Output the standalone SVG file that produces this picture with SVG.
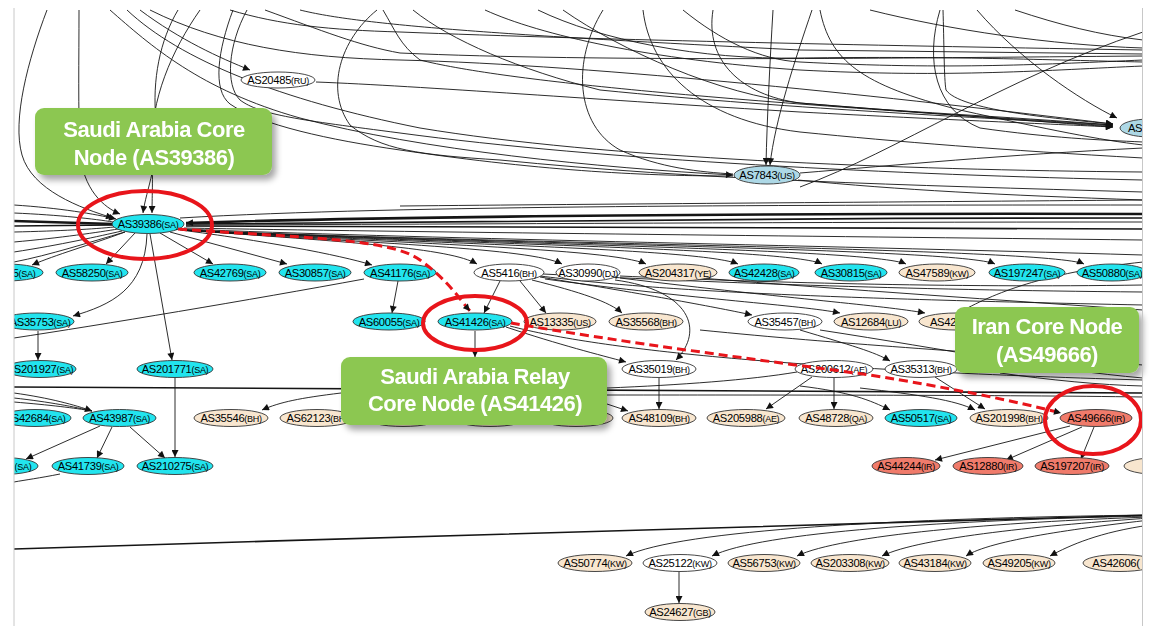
<svg xmlns="http://www.w3.org/2000/svg" width="1153" height="632" viewBox="0 0 1153 632">
<style>
.e{fill:none;stroke:#151515;stroke-width:0.9}
.t{stroke-width:2.6}
.m{stroke-width:1.6}
.a{marker-end:url(#ah)}
ellipse{stroke:#333;stroke-width:0.9}
.sa{fill:#22e4ee}.bg{fill:#f8e6cf}.wh{fill:#fff}.ir{fill:#f07b6b}.lb{fill:#add8e6}
.node text{font-family:"Liberation Sans",Arial,sans-serif;font-size:11.2px;fill:#000;text-anchor:middle;letter-spacing:-0.3px}
.cc{font-size:9px}
.co{fill:#8cc751}
.ct{font-family:"Liberation Sans",Arial,sans-serif;font-weight:bold;font-size:22px;fill:#fff;text-anchor:middle;letter-spacing:-0.5px}
.ring{fill:none;stroke:#e8151b;stroke-width:4}
.rd{fill:none;stroke:#e8151b;stroke-width:3;stroke-dasharray:9 5}
</style>
<defs>
<marker id="ah" viewBox="0 0 10 10" refX="10" refY="5" markerWidth="8" markerHeight="7" markerUnits="userSpaceOnUse" orient="auto"><path d="M0,0L10,5L0,10z" fill="#111"/></marker>
<clipPath id="fr"><rect x="14" y="8" width="1128.5" height="618"/></clipPath>
<filter id="sh" x="-10%" y="-15%" width="130%" height="150%"><feGaussianBlur in="SourceAlpha" stdDeviation="3"/><feOffset dx="4" dy="5" result="b"/><feFlood flood-color="#000" flood-opacity="0.35"/><feComposite in2="b" operator="in"/><feMerge><feMergeNode/><feMergeNode in="SourceGraphic"/></feMerge></filter>
</defs>
<rect width="1153" height="632" fill="#fff"/>
<g clip-path="url(#fr)">
<g id="connectors">
<path class="e a" d="M47,10 C28,60 12,120 22,155 C32,190 80,208 113,218"/>
<path class="e a" d="M79,10 C79,60 78,110 80,150 C82,190 105,208 120,214"/>
<path class="e a" d="M178,10 C160,40 152,80 156,120 C160,160 146,190 143,213"/>
<path class="e a" d="M200,10 C172,50 150,100 152,150 C153,180 152,200 152,213"/>
<path class="e a" d="M110,10 C150,45 200,90 300,118 C420,150 600,168 733,175"/>
<path class="e" d="M127,10 C180,60 280,100 420,128 C600,158 900,170 1143,172"/>
<path class="e a" d="M150,10 C220,45 300,58 400,60 C600,65 900,98 1113,124"/>
<path class="e" d="M230,10 C280,25 330,30 400,32 C600,40 900,46 1143,50"/>
<path class="e" d="M265,10 C320,30 360,46 400,53 C600,62 900,58 1143,56"/>
<path class="e" d="M247,10 C228,45 225,85 240,100 C260,115 300,120 400,133 C600,160 900,175 1143,180"/>
<path class="e" d="M233,10 C218,50 212,90 230,104 C260,125 330,140 400,150 C550,172 650,176 733,176"/>
<path class="e" d="M377,10 C340,40 325,90 350,125 C380,150 420,155 500,160 C700,180 900,185 1143,192"/>
<path class="e a" d="M383,10 C395,30 400,45 420,60 C500,80 700,100 1113,125"/>
<path class="e a" d="M413,10 C450,40 520,70 600,90 C800,110 1000,118 1113,126"/>
<path class="e" d="M485,10 C540,35 650,60 800,70 C950,78 1050,70 1143,66"/>
<path class="e" d="M538,10 C600,40 700,60 800,58 C950,56 1050,60 1143,62"/>
<path class="e a" d="M563,10 C620,50 720,95 800,103 C950,115 1050,122 1113,127"/>
<path class="e" d="M603,10 C572,60 575,125 620,150 C660,168 700,172 733,174"/>
<path class="e" d="M643,10 C650,70 700,120 800,132 C900,142 1000,150 1143,158"/>
<path class="e" d="M683,10 C720,40 760,60 800,62 C950,70 1050,64 1143,60"/>
<path class="e a" d="M713,10 C705,60 740,95 800,103 C900,112 1000,116 1113,125"/>
<path class="e a" d="M773,10 C770,60 767,120 766,165"/>
<path class="e a" d="M812,10 C795,60 775,120 770,165"/>
<path class="e" d="M820,10 C830,60 860,85 960,110 C1050,130 1100,140 1143,145"/>
<path class="e a" d="M943,10 C944,40 944,80 946,90 C960,110 1050,118 1113,124"/>
<path class="e" d="M940,10 C925,60 935,110 980,128 C1050,138 1100,140 1143,142"/>
<path class="e a" d="M977,10 C1020,60 1080,100 1117,118"/>
<path class="e" d="M1015,10 C1060,25 1100,35 1143,40"/>
<path class="e" d="M870,10 C950,30 1050,45 1143,48"/>
<path class="e" d="M800,187 C900,150 1000,80 1143,32"/>
<path class="e" d="M800,173 C900,165 1000,155 1143,148"/>
<path class="e" d="M798,180 C900,190 1000,195 1143,200"/>
<path class="e a" d="M316,82 C420,86 600,100 800,112 C950,120 1050,124 1113,127"/>
<path class="e a" d="M140,10 C180,40 220,58 250,70"/>
<path class="e" d="M300,10 C360,25 500,35 800,50 L1143,54"/>
<path class="e a" d="M14,205 C60,208 95,214 116,219"/>
<path class="e" d="M14,213 C60,215 95,219 113,222"/>
<path class="e t" d="M14,221 L113,224"/>
<path class="e m" d="M14,226 L113,225"/>
<path class="e" d="M14,232 C60,231 95,229 114,227"/>
<path class="e" d="M14,242 C60,238 100,232 118,229"/>
<path class="e" d="M14,252 C60,245 100,236 122,231"/>
<path class="e" d="M14,262 C50,255 90,242 125,232"/>
<path class="e t a" d="M1143,214 C800,213 400,216 186,223"/>
<path class="e m" d="M1143,218 C800,218 400,220 186,224"/>
<path class="e" d="M1143,222 C800,222 500,224 186,225"/>
<path class="e m" d="M186,226 C400,226 800,228 1143,229"/>
<path class="e" d="M184,228 C400,232 800,236 1143,240"/>
<path class="e" d="M183,229 C400,238 800,245 1143,255"/>
<path class="e" d="M180,218 C400,205 800,205 1143,205"/>
<path class="e" d="M400,206 C600,204 900,202 1143,200"/>
<path class="e a" d="M182,230 C350,242 450,248 477,264"/>
<path class="e a" d="M182,230 C380,244 530,248 562,264"/>
<path class="e a" d="M182,230 C400,244 610,248 646,264"/>
<path class="e a" d="M182,230 C420,244 700,248 738,264"/>
<path class="e a" d="M182,230 C440,244 790,248 822,264"/>
<path class="e a" d="M182,230 C460,244 870,248 906,264"/>
<path class="e a" d="M182,230 C480,244 960,248 995,264"/>
<path class="e a" d="M182,230 C500,244 1050,248 1084,264"/>
<path class="e a" d="M125,232 C90,245 55,255 32,265"/>
<path class="e a" d="M135,233 L106,264"/>
<path class="e a" d="M160,233 L213,264"/>
<path class="e a" d="M170,232 L287,264"/>
<path class="e a" d="M180,230 C260,240 340,255 372,265"/>
<path class="e a" d="M147,234 C145,290 110,305 73,316"/>
<path class="e a" d="M150,234 L172,360"/>
<path class="e" d="M364,279 C250,300 100,325 14,338"/>
<path class="e a" d="M38,331 L38,360"/>
<path class="e a" d="M398,281 L392,313"/>
<path class="e a" d="M175,378 L175,457"/>
<path class="e a" d="M500,281 L484,313"/>
<path class="e a" d="M520,281 L546,313"/>
<path class="e a" d="M532,280 C580,292 610,302 622,313"/>
<path class="e a" d="M540,277 C650,295 720,308 752,315"/>
<path class="e" d="M540,276 C650,290 800,298 1143,305"/>
<path class="e" d="M543,274 C700,282 900,290 1143,292"/>
<path class="e" d="M620,276 C750,282 950,288 1143,285"/>
<path class="e" d="M700,278 C850,290 1000,300 1143,310"/>
<path class="e a" d="M545,279 C700,300 800,305 840,313"/>
<path class="e a" d="M620,278 C800,300 880,305 925,313"/>
<path class="e" d="M1143,262 C1050,272 1000,290 960,312"/>
<path class="e a" d="M615,280 C690,290 705,330 676,360"/>
<path class="e a" d="M506,327 C560,345 600,355 626,362"/>
<path class="e a" d="M475,331 L475,357"/>
<path class="e" d="M510,326 C600,350 800,370 1143,380"/>
<path class="e a" d="M800,330 C850,345 875,352 890,361"/>
<path class="e" d="M700,330 C850,345 950,350 1143,365"/>
<path class="e" d="M820,330 C950,350 1050,370 1143,378"/>
<path class="e a" d="M659,378 L659,409"/>
<path class="e a" d="M812,377 L766,409"/>
<path class="e a" d="M834,378 L834,409"/>
<path class="e a" d="M935,377 L985,409"/>
<path class="e a" d="M800,386 C850,392 870,400 890,410"/>
<path class="e a" d="M860,388 C920,395 955,400 975,410"/>
<path class="e" d="M797,372 C750,380 680,385 607,388"/>
<path class="e m" d="M14,387 C300,389 700,391 1143,393"/>
<path class="e" d="M607,395 C800,395 1000,395 1143,397"/>
<path class="e" d="M1000,373 C1050,380 1100,385 1143,386"/>
<path class="e a" d="M607,404 L628,411"/>
<path class="e a" d="M341,393 C300,398 280,402 262,410"/>
<path class="e a" d="M14,393 C50,398 75,405 92,411"/>
<path class="e" d="M14,398 C50,402 75,407 92,411"/>
<path class="e" d="M14,402 C50,405 75,408 92,411"/>
<path class="e a" d="M100,426 L26,459"/>
<path class="e a" d="M112,427 L97,458"/>
<path class="e a" d="M130,427 L165,458"/>
<path class="e" d="M60,474 C40,478 25,480 14,482"/>
<path class="e a" d="M1070,426 L935,460"/>
<path class="e a" d="M1082,427 L1006,460"/>
<path class="e a" d="M1094,427 L1081,459"/>
<path class="e m" d="M14,549 C400,537 800,525 1150,515"/>
<path class="e a" d="M1150,515 C900,518 680,530 626,556"/>
<path class="e a" d="M1150,516 C950,520 760,532 712,556"/>
<path class="e a" d="M1150,517 C1000,522 840,535 797,556"/>
<path class="e a" d="M1150,518 C1050,525 920,537 882,556"/>
<path class="e a" d="M1150,520 C1080,528 990,540 966,556"/>
<path class="e a" d="M1150,525 C1100,532 1070,545 1050,556"/>
<path class="e a" d="M679,572 L679,603"/>
</g>
<g id="n-AS20485" class="node"><ellipse cx="278" cy="80" rx="37" ry="8" class="wh"/><text x="278" y="84">AS20485<tspan class="cc">(RU)</tspan></text></g>
<g id="n-AS7843" class="node"><ellipse cx="767" cy="175" rx="33" ry="9" class="lb"/><text x="767" y="179">AS7843<tspan class="cc">(US)</tspan></text></g>
<g id="n-AS4" class="node"><ellipse cx="1150" cy="128" rx="30" ry="9" class="lb"/><text x="1138" y="132">AS4</text></g>
<g id="n-AS39386" class="node"><ellipse cx="148" cy="224" rx="36" ry="9.5" class="sa"/><text x="148" y="228">AS39386<tspan class="cc">(SA)</tspan></text></g>
<g id="n-x5SA" class="node"><ellipse cx="6" cy="272.5" rx="37" ry="8.5" class="sa"/><text x="24" y="276.5">5<tspan class="cc">(SA)</tspan></text></g>
<g id="n-AS58250" class="node"><ellipse cx="92" cy="272.5" rx="36" ry="8.5" class="sa"/><text x="92" y="276.5">AS58250<tspan class="cc">(SA)</tspan></text></g>
<g id="n-AS42769" class="node"><ellipse cx="230" cy="272.5" rx="36" ry="8.5" class="sa"/><text x="230" y="276.5">AS42769<tspan class="cc">(SA)</tspan></text></g>
<g id="n-AS30857" class="node"><ellipse cx="315" cy="272.5" rx="36" ry="8.5" class="sa"/><text x="315" y="276.5">AS30857<tspan class="cc">(SA)</tspan></text></g>
<g id="n-AS41176" class="node"><ellipse cx="400" cy="272.5" rx="36" ry="8.5" class="sa"/><text x="400" y="276.5">AS41176<tspan class="cc">(SA)</tspan></text></g>
<g id="n-AS5416" class="node"><ellipse cx="509" cy="272.5" rx="35" ry="8.5" class="wh"/><text x="509" y="276.5">AS5416<tspan class="cc">(BH)</tspan></text></g>
<g id="n-AS30990" class="node"><ellipse cx="588" cy="272.5" rx="32" ry="8.5" class="wh"/><text x="588" y="276.5">AS30990<tspan class="cc">(DJ)</tspan></text></g>
<g id="n-AS204317" class="node"><ellipse cx="678" cy="272.5" rx="39" ry="8.5" class="bg"/><text x="678" y="276.5">AS204317<tspan class="cc">(YE)</tspan></text></g>
<g id="n-AS42428" class="node"><ellipse cx="764" cy="272.5" rx="35" ry="8.5" class="sa"/><text x="764" y="276.5">AS42428<tspan class="cc">(SA)</tspan></text></g>
<g id="n-AS30815" class="node"><ellipse cx="851" cy="272.5" rx="36" ry="8.5" class="sa"/><text x="851" y="276.5">AS30815<tspan class="cc">(SA)</tspan></text></g>
<g id="n-AS47589" class="node"><ellipse cx="937" cy="272.5" rx="38" ry="8.5" class="bg"/><text x="937" y="276.5">AS47589<tspan class="cc">(KW)</tspan></text></g>
<g id="n-AS197247" class="node"><ellipse cx="1027" cy="272.5" rx="38" ry="8.5" class="sa"/><text x="1027" y="276.5">AS197247<tspan class="cc">(SA)</tspan></text></g>
<g id="n-AS50880" class="node"><ellipse cx="1112" cy="272.5" rx="35" ry="8.5" class="sa"/><text x="1112" y="276.5">AS50880<tspan class="cc">(SA)</tspan></text></g>
<g id="n-AS35753" class="node"><ellipse cx="37" cy="321.5" rx="37" ry="8.5" class="sa"/><text x="40" y="325.5">AS35753<tspan class="cc">(SA)</tspan></text></g>
<g id="n-AS60055" class="node"><ellipse cx="389" cy="321.5" rx="36" ry="8.5" class="sa"/><text x="389" y="325.5">AS60055<tspan class="cc">(SA)</tspan></text></g>
<g id="n-AS41426" class="node"><ellipse cx="475" cy="321.5" rx="37" ry="8.5" class="sa"/><text x="475" y="325.5">AS41426<tspan class="cc">(SA)</tspan></text></g>
<g id="n-AS13335" class="node"><ellipse cx="560" cy="321.5" rx="36" ry="8.5" class="bg"/><text x="560" y="325.5">AS13335<tspan class="cc">(US)</tspan></text></g>
<g id="n-AS35568" class="node"><ellipse cx="646" cy="321.5" rx="37" ry="8.5" class="bg"/><text x="646" y="325.5">AS35568<tspan class="cc">(BH)</tspan></text></g>
<g id="n-AS35457" class="node"><ellipse cx="785" cy="321.5" rx="37" ry="8.5" class="wh"/><text x="785" y="325.5">AS35457<tspan class="cc">(BH)</tspan></text></g>
<g id="n-AS12684" class="node"><ellipse cx="871" cy="321.5" rx="37" ry="8.5" class="bg"/><text x="871" y="325.5">AS12684<tspan class="cc">(LU)</tspan></text></g>
<g id="n-AS42x" class="node"><ellipse cx="956" cy="321.5" rx="37" ry="8.5" class="bg"/><text x="943" y="325.5">AS42</text></g>
<g id="n-AS201927" class="node"><ellipse cx="40" cy="369" rx="36" ry="8.5" class="sa"/><text x="40" y="373">AS201927<tspan class="cc">(SA)</tspan></text></g>
<g id="n-AS201771" class="node"><ellipse cx="175" cy="369" rx="38" ry="8.5" class="sa"/><text x="175" y="373">AS201771<tspan class="cc">(SA)</tspan></text></g>
<g id="n-AS35019" class="node"><ellipse cx="659" cy="369" rx="37" ry="8.5" class="wh"/><text x="659" y="373">AS35019<tspan class="cc">(BH)</tspan></text></g>
<g id="n-AS200612" class="node"><ellipse cx="834" cy="369" rx="39" ry="8.5" class="wh"/><text x="834" y="373">AS200612<tspan class="cc">(AE)</tspan></text></g>
<g id="n-AS35313" class="node"><ellipse cx="921" cy="369" rx="36" ry="8.5" class="wh"/><text x="921" y="373">AS35313<tspan class="cc">(BH)</tspan></text></g>
<g id="n-AS42684" class="node"><ellipse cx="35" cy="418" rx="36" ry="8.5" class="sa"/><text x="35" y="422">AS42684<tspan class="cc">(SA)</tspan></text></g>
<g id="n-AS43987" class="node"><ellipse cx="119.5" cy="418" rx="36.5" ry="8.5" class="sa"/><text x="119.5" y="422">AS43987<tspan class="cc">(SA)</tspan></text></g>
<g id="n-AS35546" class="node"><ellipse cx="231" cy="418" rx="37" ry="8.5" class="bg"/><text x="231" y="422">AS35546<tspan class="cc">(BH)</tspan></text></g>
<g id="n-AS62123" class="node"><ellipse cx="317" cy="418" rx="37" ry="8.5" class="bg"/><text x="317" y="422">AS62123<tspan class="cc">(BH)</tspan></text></g>
<g id="n-h1" class="node"><ellipse cx="403" cy="418" rx="37" ry="8.5" class="bg"/></g>
<g id="n-h2" class="node"><ellipse cx="490" cy="418" rx="37" ry="8.5" class="bg"/></g>
<g id="n-h3" class="node"><ellipse cx="576" cy="418" rx="37" ry="8.5" class="bg"/></g>
<g id="n-AS48109" class="node"><ellipse cx="659" cy="418" rx="37" ry="8.5" class="bg"/><text x="659" y="422">AS48109<tspan class="cc">(BH)</tspan></text></g>
<g id="n-AS205988" class="node"><ellipse cx="746" cy="418" rx="39" ry="8.5" class="bg"/><text x="746" y="422">AS205988<tspan class="cc">(AE)</tspan></text></g>
<g id="n-AS48728" class="node"><ellipse cx="836" cy="418" rx="37" ry="8.5" class="bg"/><text x="836" y="422">AS48728<tspan class="cc">(QA)</tspan></text></g>
<g id="n-AS50517" class="node"><ellipse cx="921" cy="418" rx="36" ry="8.5" class="sa"/><text x="921" y="422">AS50517<tspan class="cc">(SA)</tspan></text></g>
<g id="n-AS201998" class="node"><ellipse cx="1009" cy="418" rx="39" ry="8.5" class="bg"/><text x="1009" y="422">AS201998<tspan class="cc">(BH)</tspan></text></g>
<g id="n-AS49666" class="node"><ellipse cx="1096" cy="418" rx="36" ry="8.5" class="ir"/><text x="1096" y="422">AS49666<tspan class="cc">(IR)</tspan></text></g>
<g id="n-xSA" class="node"><ellipse cx="2" cy="466" rx="36" ry="8.5" class="sa"/><text x="23" y="470"><tspan class="cc">(SA)</tspan></text></g>
<g id="n-AS41739" class="node"><ellipse cx="88" cy="466" rx="36" ry="8.5" class="sa"/><text x="88" y="470">AS41739<tspan class="cc">(SA)</tspan></text></g>
<g id="n-AS210275" class="node"><ellipse cx="175" cy="466" rx="38" ry="8.5" class="sa"/><text x="175" y="470">AS210275<tspan class="cc">(SA)</tspan></text></g>
<g id="n-AS44244" class="node"><ellipse cx="906" cy="466" rx="34" ry="8.5" class="ir"/><text x="906" y="470">AS44244<tspan class="cc">(IR)</tspan></text></g>
<g id="n-AS12880" class="node"><ellipse cx="988" cy="466" rx="35" ry="8.5" class="ir"/><text x="988" y="470">AS12880<tspan class="cc">(IR)</tspan></text></g>
<g id="n-AS197207" class="node"><ellipse cx="1072" cy="466" rx="37" ry="8.5" class="ir"/><text x="1072" y="470">AS197207<tspan class="cc">(IR)</tspan></text></g>
<g id="n-xr" class="node"><ellipse cx="1160" cy="466" rx="36" ry="8.5" class="bg"/></g>
<g id="n-AS50774" class="node"><ellipse cx="595" cy="563" rx="37" ry="8.5" class="bg"/><text x="595" y="567">AS50774<tspan class="cc">(KW)</tspan></text></g>
<g id="n-AS25122" class="node"><ellipse cx="680" cy="563" rx="37" ry="8.5" class="wh"/><text x="680" y="567">AS25122<tspan class="cc">(KW)</tspan></text></g>
<g id="n-AS56753" class="node"><ellipse cx="764" cy="563" rx="36" ry="8.5" class="bg"/><text x="764" y="567">AS56753<tspan class="cc">(KW)</tspan></text></g>
<g id="n-AS203308" class="node"><ellipse cx="850" cy="563" rx="39" ry="8.5" class="bg"/><text x="850" y="567">AS203308<tspan class="cc">(KW)</tspan></text></g>
<g id="n-AS43184" class="node"><ellipse cx="935" cy="563" rx="36" ry="8.5" class="bg"/><text x="935" y="567">AS43184<tspan class="cc">(KW)</tspan></text></g>
<g id="n-AS49205" class="node"><ellipse cx="1019" cy="563" rx="36" ry="8.5" class="bg"/><text x="1019" y="567">AS49205<tspan class="cc">(KW)</tspan></text></g>
<g id="n-AS42606" class="node"><ellipse cx="1120" cy="563" rx="37" ry="8.5" class="bg"/><text x="1116" y="567">AS42606(</text></g>
<g id="n-AS24627" class="node"><ellipse cx="680" cy="612" rx="35" ry="8.5" class="bg"/><text x="680" y="616">AS24627<tspan class="cc">(GB)</tspan></text></g>
<g id="highlight">
<ellipse class="ring" cx="145" cy="225" rx="67" ry="34"/>
<ellipse class="ring" cx="475" cy="323" rx="52" ry="27"/>
<ellipse class="ring" cx="1093" cy="420" rx="48" ry="34"/>
<path class="rd a" d="M178,229 C300,238 390,238 420,260 S460,300 470,311"/>
<path class="rd a" d="M511,323 C620,342 760,360 870,375 C950,388 1010,400 1061,413"/>
</g>
</g>
<g id="callout-sa-core" filter="url(#sh)"><rect class="co" x="35" y="108" width="237" height="67" rx="9"/><text class="ct" x="154" y="137">Saudi Arabia Core</text><text class="ct" x="154" y="165">Node (AS39386)</text></g>
<g id="callout-sa-relay" filter="url(#sh)"><rect class="co" x="341" y="357" width="266" height="68" rx="9"/><text class="ct" x="475" y="384">Saudi Arabia Relay</text><text class="ct" x="475" y="411">Core Node (AS41426)</text></g>
<g id="callout-iran" filter="url(#sh)"><rect class="co" x="955" y="307" width="184" height="66" rx="9"/><text class="ct" x="1047" y="334">Iran Core Node</text><text class="ct" x="1047" y="362">(AS49666)</text></g>
<line x1="14" y1="8" x2="14" y2="626" stroke="#c8c8c8"/>
<line x1="1142.5" y1="8" x2="1142.5" y2="626" stroke="#c8c8c8"/>
</svg>
